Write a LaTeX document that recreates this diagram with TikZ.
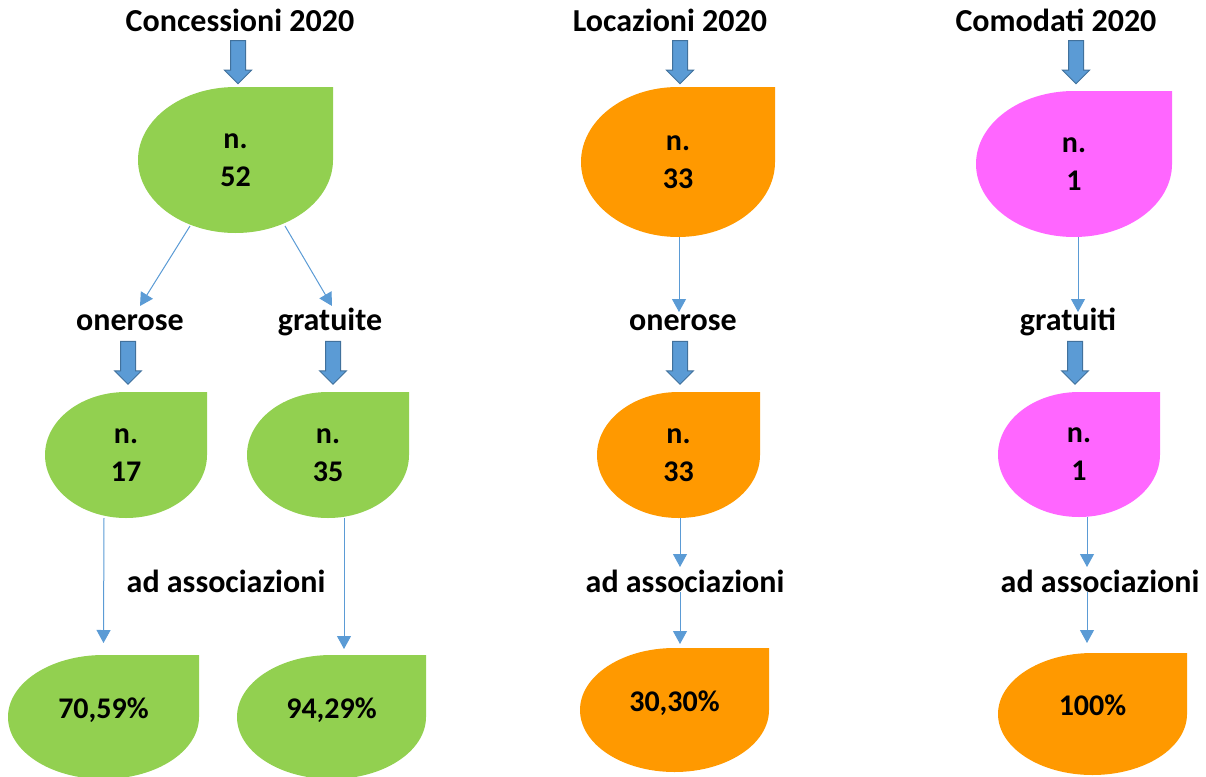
\documentclass[tikz,border=0pt]{standalone}
\usepackage{fontspec}
\setmainfont{Carlito}
\usetikzlibrary{arrows.meta,shapes.arrows,calc}
\definecolor{DropGreen}{RGB}{146,208,80}
\definecolor{DropOrange}{RGB}{255,153,0}
\definecolor{DropPink}{RGB}{255,102,255}
\definecolor{ArrowBlue}{RGB}{91,155,213}
\definecolor{ArrowEdge}{RGB}{65,113,156}

\tikzset{
  drop/.style n args={3}{minimum width=#1, minimum height=#2, inner sep=0pt, outer sep=0pt, align=center,
    font=\fontsize{30}{38}\selectfont\bfseries,
    path picture={\fill[#3] let \p1=(path picture bounding box.north east), \p2=(path picture bounding box.center) in
      (path picture bounding box.north) -- (\p1) -- (path picture bounding box.east)
      arc[start angle=0, end angle=-270, x radius=\x1-\x2, y radius=\y1-\y2] -- cycle;}},
  pct/.style={text height=21pt, text depth=19pt},
  lab/.style={anchor=base, inner sep=0pt},
  bigarrow/.style={single arrow, rotate=-90, fill=ArrowBlue, draw=ArrowEdge, line width=1pt,
    inner xsep=0pt, inner ysep=7pt, single arrow head extend=6pt, minimum height=43pt},
  link/.style={draw=ArrowBlue, line width=1pt, -{Triangle[width=14pt,length=13pt]}}
}

\begin{document}
\begin{tikzpicture}[x=1pt, y=1pt, every node/.style={font=\fontsize{32}{38}\selectfont\bfseries}]
\useasboundingbox (0,0) rectangle (1206,-776);

% titles
\node[lab] (tc) at (240,-32) {Concessioni 2020};
\node[lab] (tl) at (670,-32) {Locazioni 2020};
\node[lab] (tm) at (1056,-32) {Comodati 2020};
\node[bigarrow] (bc) at (238,-58.5) {};
\node[bigarrow] (bl) at (680,-58.5) {};
\node[bigarrow] (bm) at (1076,-58.5) {};

% concessioni
\node[drop={195pt}{146pt}{DropGreen}] (c0) at (235.5,-160) {n.\\52};
\node[lab] (co) at (130,-330) {onerose};
\node[lab] (cg) at (330,-330) {gratuite};
\node[bigarrow] (bco) at (128,-359) {};
\node[bigarrow] (bcg) at (333,-359) {};
\node[drop={162pt}{126pt}{DropGreen}] (c1) at (126,-455) {n.\\17};
\node[drop={162pt}{126pt}{DropGreen}] (c2) at (328,-455) {n.\\35};
\node[lab] (ca) at (226,-592) {ad associazioni};
\node[drop={191pt}{124pt}{DropGreen},pct] (c3) at (103.5,-717) {70,59\%};
\node[drop={189pt}{124pt}{DropGreen},pct] (c4) at (331.5,-717) {94,29\%};

% locazioni
\node[drop={194pt}{150pt}{DropOrange}] (l0) at (678,-162) {n.\\33};
\node[lab] (lo) at (683,-330) {onerose};
\node[bigarrow] (blo) at (680,-359) {};
\node[drop={163pt}{126pt}{DropOrange}] (l1) at (678.5,-455) {n.\\33};
\node[lab] (la) at (685,-592) {ad associazioni};
\node[drop={189pt}{124pt}{DropOrange},pct] (l2) at (674.5,-710) {30,30\%};

% comodati
\node[drop={196pt}{146pt}{DropPink}] (m0) at (1074,-164) {n.\\1};
\node[lab] (mg) at (1068,-330) {gratuiti};
\node[bigarrow] (bmg) at (1075,-359) {};
\node[drop={162pt}{125pt}{DropPink}] (m1) at (1079,-454.5) {n.\\1};
\node[lab] (ma) at (1100,-592) {ad associazioni};
\node[drop={189pt}{122pt}{DropOrange},pct] (m2) at (1092.5,-714) {100\%};

% connectors
\draw[link] ($(c0.center)+(-45.5,-66)$) -- ($(co.base)+(10,24)$);
\draw[link] ($(c0.center)+(49.5,-66)$) -- ($(cg.base)+(2,24)$);
\draw[link] ([xshift=-22pt]c1.south) -- ([yshift=12pt]c3.north);
\draw[link] ([xshift=16pt]c2.south) -- ([xshift=12.5pt,yshift=6pt]c4.north);
\draw[link] ([xshift=1pt]l0.south) -- ($(lo.base)+(-4,18)$);
\draw[link] ([xshift=1.5pt]l1.south) -- ($(la.base)+(-5,25)$);
\draw[link] ($(la.base)+(-5,0)$) -- ([xshift=5.5pt,yshift=4pt]l2.north);
\draw[link] ([xshift=4pt]m0.south) -- ($(mg.base)+(10,18)$);
\draw[link] ([xshift=8pt]m1.south) -- ($(ma.base)+(-13,25)$);
\draw[link] ($(ma.base)+(-13,0)$) -- ([xshift=-5.5pt,yshift=10pt]m2.north);
\end{tikzpicture}
\end{document}
